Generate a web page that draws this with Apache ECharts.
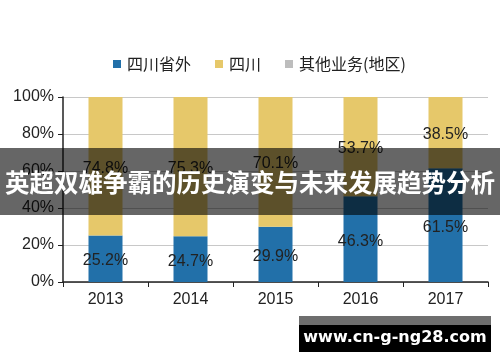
<!DOCTYPE html>
<html><head><meta charset="utf-8">
<script src="https://cdn.jsdelivr.net/npm/echarts@6/dist/echarts.min.js"></script>
<style>html,body{margin:0;padding:0;background:#fff}#c{width:500px;height:362px}</style>
</head><body><div id="c"></div>
<script>
const categories = ['2013','2014','2015','2016','2017'];
const outsideSichuan = [25.2, 24.7, 29.9, 46.3, 61.5];
const sichuan = [74.8, 75.3, 70.1, 53.7, 38.5];
const otherBiz = [0, 0, 0, 0, 0];
const seriesNames = ['四川省外', '四川', '其他业务(地区)'];
const yTicks = [0, 20, 40, 60, 80, 100];
const titleText = '英超双雄争霸的历史演变与未来发展趋势分析';
const watermark = 'www.cn-g-ng28.com';

const chart = echarts.init(document.getElementById('c'));
const lbl = {show:true, position:'inside', color:'#222', fontSize:16, fontFamily:'Liberation Sans, Arial', formatter: p => p.value ? p.value.toFixed(1)+'%' : '', offset:[0,2]};
chart.setOption({
  animation:false,
  legend:{top:51, left:108, itemWidth:8, itemHeight:8, itemGap:24, icon:'rect',
    textStyle:{fontSize:16, color:'#222', fontFamily:'Noto Sans CJK SC', padding:[0,0,0,1]}, data:seriesNames},
  grid:{left:63, right:12, top:97, bottom:80},
  xAxis:{type:'category', data:categories,
    axisLine:{lineStyle:{color:'#222', width:1.5}},
    axisTick:{show:true, alignWithLabel:false, length:5, lineStyle:{color:'#222'}},
    axisLabel:{color:'#222', fontSize:16, fontFamily:'Liberation Sans, Arial', margin:10}},
  yAxis:{type:'value', min:0, max:100, interval:20,
    axisLine:{show:true, lineStyle:{color:'#222', width:1.5}},
    axisTick:{show:true, length:5, lineStyle:{color:'#222'}},
    splitLine:{lineStyle:{color:'#c8c8c8'}},
    axisLabel:{color:'#222', fontSize:16, fontFamily:'Liberation Sans, Arial', margin:9, formatter: v => yTicks.includes(v) ? v+'%' : ''}},
  series:[
    {name:seriesNames[0], type:'bar', stack:'a', data:outsideSichuan, barWidth:34, itemStyle:{color:'#2270a9'}, label:lbl},
    {name:seriesNames[1], type:'bar', stack:'a', data:sichuan, itemStyle:{color:'#e6c86a'}, label:lbl},
    {name:seriesNames[2], type:'bar', stack:'a', data:otherBiz, itemStyle:{color:'#bdbdbd'}, label:{show:false}}
  ],
  graphic:[
    {type:'rect', shape:{x:0, y:148, width:500, height:67}, style:{fill:'rgba(0,0,0,0.6)'}, z:100},
    {type:'text', x:250, y:183, style:{text:titleText, fill:'#fff', font:'bold 24.5px "Noto Sans CJK SC"', align:'center', verticalAlign:'middle'}, z:101},
    {type:'rect', shape:{x:299, y:316, width:192, height:9}, style:{fill:'#6e6e6e'}, z:100},
    {type:'rect', shape:{x:299, y:325, width:192, height:27}, style:{fill:'#000'}, z:100},
    {type:'text', x:395, y:338, style:{text:watermark, fill:'#fff', font:'bold 16px "DejaVu Sans"', align:'center', verticalAlign:'middle'}, z:101}
  ]
});
</script></body></html>
